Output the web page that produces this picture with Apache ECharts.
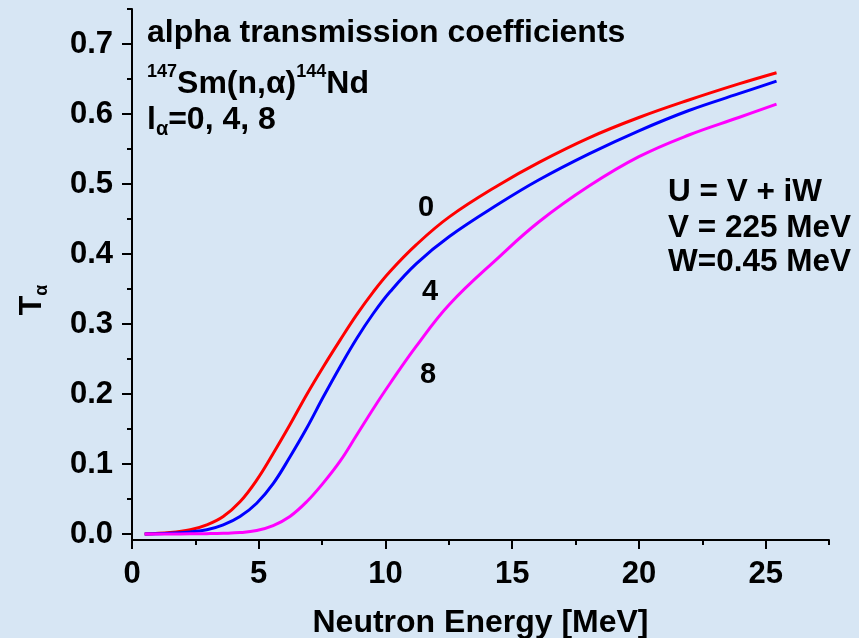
<!doctype html>
<html>
<head>
<meta charset="UTF-8">
<title>alpha transmission coefficients</title>
<script src="https://cdn.jsdelivr.net/npm/echarts@6/dist/echarts.min.js"></script>
<style>
html,body{margin:0;padding:0;background:#d7e6f4;}
#chart{width:859px;height:638px;}
</style>
</head>
<body>
<div id="chart"></div>
<script>
// neutron energy (MeV) and transmission for l = 0, 4, 8
var energy = [0.5, 1.5, 2.3, 2.95, 3.6, 4.26, 4.92, 5.57, 6.23, 6.89, 7.55, 8.21, 8.86, 9.52, 10.18, 11.21, 12.52, 14.49, 16.06, 18.03, 20.0, 21.97, 23.94, 25.43];
var tL0 = [0, 0.002, 0.006, 0.013, 0.025, 0.046, 0.077, 0.115, 0.156, 0.199, 0.239, 0.277, 0.313, 0.346, 0.375, 0.413, 0.453, 0.499, 0.531, 0.566, 0.595, 0.620, 0.643, 0.659];
var tL4 = [0, 0.001, 0.003, 0.006, 0.013, 0.025, 0.044, 0.072, 0.110, 0.151, 0.196, 0.239, 0.279, 0.315, 0.346, 0.386, 0.425, 0.472, 0.506, 0.543, 0.576, 0.605, 0.629, 0.647];
var tL8 = [0, 0, 0.0002, 0.0005, 0.001, 0.002, 0.005, 0.012, 0.025, 0.046, 0.073, 0.104, 0.141, 0.179, 0.215, 0.268, 0.328, 0.396, 0.446, 0.497, 0.539, 0.570, 0.595, 0.614];

var xMajor = [0, 5, 10, 15, 20, 25];
var xMinor = [2.5, 7.5, 12.5, 17.5, 22.5, 27.5];
var yMajor = [0, 0.1, 0.2, 0.3, 0.4, 0.5, 0.6, 0.7];
var yMinor = [0.05, 0.15, 0.25, 0.35, 0.45, 0.55, 0.65, 0.75];

function pairs(xs, ys) {
  var out = [];
  for (var i = 0; i < xs.length; i++) out.push([xs[i], ys[i]]);
  return out;
}

var FONT = 'Arial, "Liberation Sans", sans-serif';
var ink = '#000';

var chart = echarts.init(document.getElementById('chart'));

var axisX = {
  type: 'value', min: 0, max: 27.5, position: 'bottom',
  splitLine: {show: false},
  axisLine: {onZero: false, lineStyle: {color: ink, width: 2}}
};
var axisY = {
  type: 'value', min: -0.00857, max: 0.75, position: 'left',
  splitLine: {show: false},
  axisLine: {onZero: false, lineStyle: {color: ink, width: 2}}
};

function curve(name, ys, color) {
  return {
    name: name, type: 'line', data: pairs(energy, ys),
    smooth: 0.4, showSymbol: false,
    lineStyle: {color: color, width: 3}, itemStyle: {color: color}
  };
}

var option = {
  backgroundColor: '#d7e6f4',
  animation: false,
  grid: {left: 132, right: 30, top: 9, bottom: 98, containLabel: false, outerBoundsMode: 'none'},
  xAxis: [
    echarts.util.merge({
      name: 'Neutron Energy [MeV]', nameLocation: 'middle', nameGap: 67,
      nameTextStyle: {fontFamily: FONT, fontWeight: 'bold', fontSize: 32, color: ink},
      axisTick: {show: true, customValues: xMajor, length: 9, lineStyle: {color: ink, width: 2}},
      axisLabel: {customValues: xMajor, margin: 19, fontFamily: FONT, fontWeight: 'bold', fontSize: 31, color: ink}
    }, axisX, true),
    echarts.util.merge({
      axisLine: {show: false},
      axisTick: {show: true, customValues: xMinor, length: 5, lineStyle: {color: ink, width: 2}},
      axisLabel: {show: false}
    }, echarts.util.clone(axisX), false)
  ],
  yAxis: [
    echarts.util.merge({
      axisTick: {show: true, customValues: yMajor, length: 10, lineStyle: {color: ink, width: 2}},
      axisLabel: {customValues: yMajor, margin: 19, fontFamily: FONT, fontWeight: 'bold', fontSize: 31, color: ink,
        formatter: function (v) { return v.toFixed(1); }}
    }, axisY, true),
    echarts.util.merge({
      axisLine: {show: false},
      axisTick: {show: true, customValues: yMinor, length: 5, lineStyle: {color: ink, width: 2}},
      axisLabel: {show: false}
    }, echarts.util.clone(axisY), false)
  ],
  series: [
    curve('l=0', tL0, '#ff0000'),
    curve('l=4', tL4, '#0000ff'),
    curve('l=8', tL8, '#ff00ff')
  ],
  graphic: [
    {type: 'text', left: 147, top: 17, style: {text: 'alpha transmission coefficients', font: 'bold 32px ' + FONT, fill: ink}},
    {type: 'text', left: 147, top: 63, style: {
      text: '{s|147}{b|Sm(n,α)}{s|144}{b|Nd}', fill: ink,
      rich: {
        b: {fontFamily: FONT, fontWeight: 'bold', fontSize: 32, lineHeight: 42},
        s: {fontFamily: FONT, fontWeight: 'bold', fontSize: 18, lineHeight: 22, verticalAlign: 'top'}
      }}},
    {type: 'text', left: 147, top: 104, style: {
      text: '{b|l}{s|α}{b|=0, 4, 8}', fill: ink,
      rich: {
        b: {fontFamily: FONT, fontWeight: 'bold', fontSize: 32, lineHeight: 38},
        s: {fontFamily: FONT, fontWeight: 'bold', fontSize: 20, lineHeight: 8, verticalAlign: 'bottom'}
      }}},
    {type: 'text', left: 668, top: 176, style: {text: 'U = V + iW', font: 'bold 31.5px ' + FONT, fill: ink}},
    {type: 'text', left: 668, top: 212, style: {text: 'V = 225 MeV', font: 'bold 31.5px ' + FONT, fill: ink}},
    {type: 'text', left: 668, top: 246, style: {text: 'W=0.45 MeV', font: 'bold 31.5px ' + FONT, fill: ink}},
    {type: 'text', x: 426, y: 208, style: {text: '0', font: 'bold 29px ' + FONT, fill: ink, textAlign: 'center', textVerticalAlign: 'middle'}},
    {type: 'text', x: 430, y: 292, style: {text: '4', font: 'bold 29px ' + FONT, fill: ink, textAlign: 'center', textVerticalAlign: 'middle'}},
    {type: 'text', x: 428, y: 375, style: {text: '8', font: 'bold 29px ' + FONT, fill: ink, textAlign: 'center', textVerticalAlign: 'middle'}},
    {type: 'text', x: 32, y: 300, rotation: Math.PI / 2, style: {
      text: '{b|T}{s|α}', fill: ink, textAlign: 'center', textVerticalAlign: 'middle',
      rich: {
        b: {fontFamily: FONT, fontWeight: 'bold', fontSize: 32, lineHeight: 38},
        s: {fontFamily: FONT, fontWeight: 'bold', fontSize: 18, lineHeight: 8, verticalAlign: 'bottom'}
      }}}
  ]
};

chart.setOption(option);
</script>
</body>
</html>
